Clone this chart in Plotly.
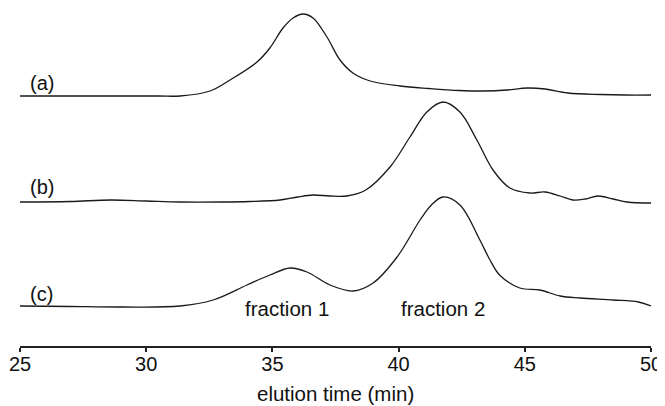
import plotly.graph_objects as go

# elution time (min) and detector signal (arbitrary units, traces stacked)
t_a = [25, 27, 29, 30.5, 31.34, 32.53, 33.32, 34.39, 34.9, 35.42, 35.82, 36.21, 36.61, 37.16,
       37.68, 38.19, 38.87, 40.06, 41.2, 42.4, 43.4, 44.3, 45.1, 45.8, 46.7, 48, 49, 50]
y_a = [250, 250, 250, 250, 250, 255, 266, 284, 298, 318, 328, 332, 328, 309,
       286, 273, 265, 260, 257.5, 255.5, 255, 256, 258, 257, 253, 251.5, 251, 251]

t_b = [25, 27, 28.6, 30, 31.34, 33, 34.1, 35.3, 36.0, 36.6, 37.28, 37.95, 38.7, 39.66, 40.45,
       41.12, 41.76, 42.43, 43.1, 43.74, 44.41, 45.2, 45.8, 46.4, 46.9, 47.4, 47.9, 48.5, 49.05, 50]
y_b = [144, 144.5, 146, 145, 144, 144, 144.5, 146, 149, 151, 150, 150, 156, 179, 209,
       234, 244, 234, 206, 176, 158, 153, 154, 150, 146, 147, 150, 147, 144, 143]

t_c = [25, 27, 29, 31.34, 32.65, 33.99, 34.9, 35.7, 36.37, 37.28, 38.19, 38.99, 39.94, 40.85,
       41.3, 41.76, 42.43, 43.22, 43.6, 44.0, 44.8, 45.6, 46.4, 47.2, 48.5, 49.5, 50]
y_c = [40, 39.5, 39, 40, 46, 61, 71, 78, 74, 61, 55, 63, 89, 126,
       141, 149, 141, 106, 87, 71, 58, 56, 50, 48, 46, 44, 40]

trace_labels = ["(a)", "(b)", "(c)"]
fraction_labels = ["fraction 1", "fraction 2"]
tick_vals = [25, 30, 35, 40, 45, 50]
x_title = "elution time (min)"

FONT = "Liberation Sans, Arial, sans-serif"

fig = go.Figure()
for t, y in [(t_a, y_a), (t_b, y_b), (t_c, y_c)]:
    fig.add_trace(go.Scatter(x=t, y=y, mode="lines",
                             line=dict(color="#1a1a1a", width=1.3, shape="spline", smoothing=1.0),
                             showlegend=False, hoverinfo="skip"))

label_pos = [(25.87, 263), (25.87, 159), (25.87, 52)]
for txt, (x, y) in zip(trace_labels, label_pos):
    fig.add_annotation(x=x, y=y, text=txt, showarrow=False, xref="x", yref="y",
                       font=dict(family=FONT, size=20, color="#111"))

frac_pos = [(35.58, 38), (41.76, 38)]
for txt, (x, y) in zip(fraction_labels, frac_pos):
    fig.add_annotation(x=x, y=y, text=txt, showarrow=False, xref="x", yref="y",
                       font=dict(family=FONT, size=20.5, color="#111"))

# axis title as annotation to keep it inside the canvas
fig.add_annotation(x=37.48, y=-0.141, xref="x", yref="paper", text=x_title, showarrow=False,
                   yanchor="middle", font=dict(family=FONT, size=20.5, color="#111"))

fig.update_layout(
    width=657, height=398,
    margin=dict(l=12, r=14, t=0, b=60, autoexpand=False),
    paper_bgcolor="white", plot_bgcolor="white",
    font=dict(family=FONT, size=20, color="#111"),
    xaxis=dict(range=[25, 50], tickvals=tick_vals, ticks="outside", ticklen=4, tickwidth=2,
               tickcolor="#222", showline=True, linecolor="#222", linewidth=2,
               showgrid=False, zeroline=False, tickfont=dict(size=20), automargin=False,
               ticklabelstandoff=-5),
    yaxis=dict(range=[0, 338], visible=False, showgrid=False, zeroline=False, automargin=False),
)

fig.write_html("out.html")
